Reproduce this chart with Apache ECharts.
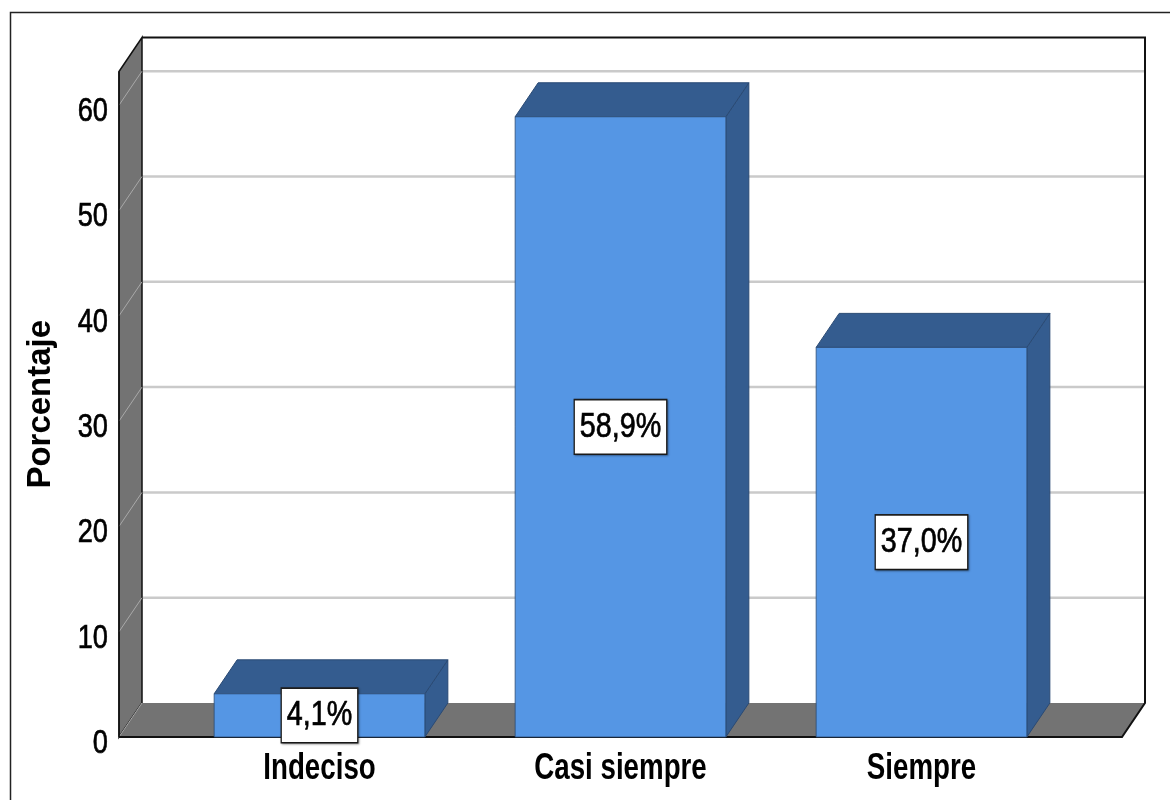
<!DOCTYPE html>
<html>
<head>
<meta charset="utf-8">
<script src="https://cdn.jsdelivr.net/npm/echarts@6/dist/echarts.min.js"></script>
<style>
  html, body { margin: 0; padding: 0; background: #ffffff; }
  #chart { width: 1170px; height: 800px; }
</style>
</head>
<body>
<div id="chart"></div>
<script>
// Response categories and their share of answers (%)
const categories = ['Indeciso', 'Casi siempre', 'Siempre'];
const percentages = [4.1, 58.9, 37.0];
const yTicks = [0, 10, 20, 30, 40, 50, 60];
const yAxisTitle = 'Porcentaje';

// 3D box geometry (pixels)
const DEPTH_X = 23;
const DEPTH_Y = 34;
const WALL_PAD = 50;   // floor runs a little past the outer bands
const Y_MAX = 63.2;

const FRONT = '#5596e4';
const SHADE = '#345c8f';
const EDGE = '#2a4a74';
const WALL = '#737373';
const GRID = '#cacaca';
const FONT = "'Liberation Sans', Arial, sans-serif";

function formatPct(v) {
  return v.toFixed(1).replace('.', ',') + '%';
}

// Condensed text: drawn at full height, squeezed horizontally
function label(text, x, y, size, weight, align, squeeze, thicken) {
  return {
    type: 'text', x: x, y: y, scaleX: squeeze, z2: 20,
    style: {
      text: text, fontFamily: FONT, fontSize: size, fontWeight: weight,
      fill: '#000000', align: align, verticalAlign: 'middle',
      stroke: thicken ? '#000000' : null, lineWidth: thicken || 0
    }
  };
}

// Back wall, left wall, floor and the axis texts
function renderFrame(params, api) {
  const cs = params.coordSys;
  const L = cs.x - WALL_PAD;
  const R = cs.x + cs.width + WALL_PAD;
  const y0 = api.coord([0, 0])[1];
  const yTop = api.coord([0, Y_MAX])[1];
  const bx = L + DEPTH_X, by = y0 - DEPTH_Y;
  const bRight = R + DEPTH_X, bTop = yTop - DEPTH_Y;
  const children = [];

  children.push({ type: 'rect', shape: { x: bx, y: bTop, width: bRight - bx, height: by - bTop },
    style: { fill: '#ffffff' } });
  yTicks.forEach(function (v) {
    if (v === 0) return;
    const y = api.coord([0, v])[1] - DEPTH_Y;
    children.push({ type: 'line', shape: { x1: bx, y1: y, x2: bRight, y2: y },
      style: { stroke: GRID, lineWidth: 2.5 } });
  });

  children.push({ type: 'polygon', shape: { points: [[L, yTop], [bx, bTop], [bx, by], [L, y0]] },
    style: { fill: WALL, stroke: '#111111', lineWidth: 1.5 } });
  yTicks.forEach(function (v) {
    if (v === 0) return;
    const y = api.coord([0, v])[1];
    children.push({ type: 'line', shape: { x1: bx, y1: y - DEPTH_Y, x2: L, y2: y },
      style: { stroke: '#a9a9a9', lineWidth: 1 } });
  });

  children.push({ type: 'polygon', shape: { points: [[L, y0], [bx, by], [bRight, by], [R, y0]] },
    style: { fill: WALL } });
  children.push({ type: 'line', shape: { x1: bx, y1: by, x2: L, y2: y0 },
    style: { stroke: '#a9a9a9', lineWidth: 1 } });
  children.push({ type: 'polyline',
    shape: { points: [[bx, bTop], [bRight, bTop], [bRight, by], [R, y0], [L, y0]] },
    style: { stroke: '#111111', lineWidth: 2, fill: null } });
  children.push({ type: 'line', shape: { x1: L, y1: yTop, x2: L, y2: y0 },
    style: { stroke: '#111111', lineWidth: 1.5 } });

  // value-axis tick labels, set against the front edge of the left wall
  yTicks.forEach(function (v) {
    const y = api.coord([0, v])[1];
    children.push(label(String(v), L - 11, y + 6.5, 34, 'normal', 'right', 0.8, 0.7));
  });
  // category labels under each bar
  categories.forEach(function (c, i) {
    const p = api.coord([i, 0]);
    children.push(label(c, p[0], p[1] + 32, 36, 'bold', 'center', 0.77, 0));
  });

  return { type: 'group', children: children };
}

// One 3D bar with its value box on the front face
function renderBar(params, api) {
  const v = api.value(1);
  const base = api.coord([api.value(0), 0]);
  const top = api.coord([api.value(0), v]);
  const w = api.size([1, 0])[0] * 0.7;
  const x1 = base[0] - w / 2, x2 = base[0] + w / 2;
  const yb = base[1], yt = top[1];

  return {
    type: 'group',
    children: [
      { type: 'polygon',
        shape: { points: [[x2, yt], [x2 + DEPTH_X, yt - DEPTH_Y], [x2 + DEPTH_X, yb - DEPTH_Y], [x2, yb]] },
        style: { fill: SHADE, stroke: EDGE, lineWidth: 1 } },
      { type: 'polygon',
        shape: { points: [[x1, yt], [x1 + DEPTH_X, yt - DEPTH_Y], [x2 + DEPTH_X, yt - DEPTH_Y], [x2, yt]] },
        style: { fill: SHADE, stroke: EDGE, lineWidth: 1 } },
      { type: 'rect', shape: { x: x1, y: yt, width: w, height: yb - yt },
        style: { fill: FRONT, stroke: EDGE, lineWidth: 0.8 } },
      { type: 'text', x: base[0], y: (yt + yb) / 2, scaleX: 0.82, z2: 10,
        style: {
          text: formatPct(v), fontFamily: FONT, fontSize: 35, fill: '#000000',
          stroke: '#000000', lineWidth: 0.7,
          align: 'center', verticalAlign: 'middle',
          backgroundColor: '#ffffff', borderColor: '#1e1e1e', borderWidth: 1.6,
          padding: [9, 6, 9, 6],
          shadowColor: 'rgba(0,0,0,0.35)', shadowBlur: 2, shadowOffsetX: 1, shadowOffsetY: 1
        } }
    ]
  };
}

const chart = echarts.init(document.getElementById('chart'), null, { renderer: 'canvas' });

chart.setOption({
  backgroundColor: '#ffffff',
  animation: false,
  grid: { left: 169, right: 98, top: 71.5, bottom: 63, containLabel: false },
  graphic: [{
    type: 'rect', z: -10, silent: true,
    shape: { x: 10.5, y: 12.5, width: 1180, height: 800 },
    style: { fill: null, stroke: '#222222', lineWidth: 1.5 }
  }],
  xAxis: {
    type: 'category',
    data: categories,
    axisLine: { show: false },
    axisTick: { show: false },
    splitLine: { show: false },
    axisLabel: { show: false }
  },
  yAxis: {
    type: 'value',
    min: 0,
    max: Y_MAX,
    interval: 10,
    name: yAxisTitle,
    nameLocation: 'middle',
    nameGap: 112,
    nameTextStyle: { fontFamily: FONT, fontSize: 33, fontWeight: 'bold', color: '#000000' },
    axisLine: { show: false },
    axisTick: { show: false },
    splitLine: { show: false },
    axisLabel: { show: false }
  },
  series: [
    {
      type: 'custom',
      renderItem: renderFrame,
      data: [[0, 0]],
      silent: true,
      z: 1
    },
    {
      type: 'custom',
      renderItem: renderBar,
      data: categories.map(function (c, i) { return [i, percentages[i]]; }),
      encode: { x: 0, y: 1 },
      z: 2
    }
  ]
});
</script>
</body>
</html>
